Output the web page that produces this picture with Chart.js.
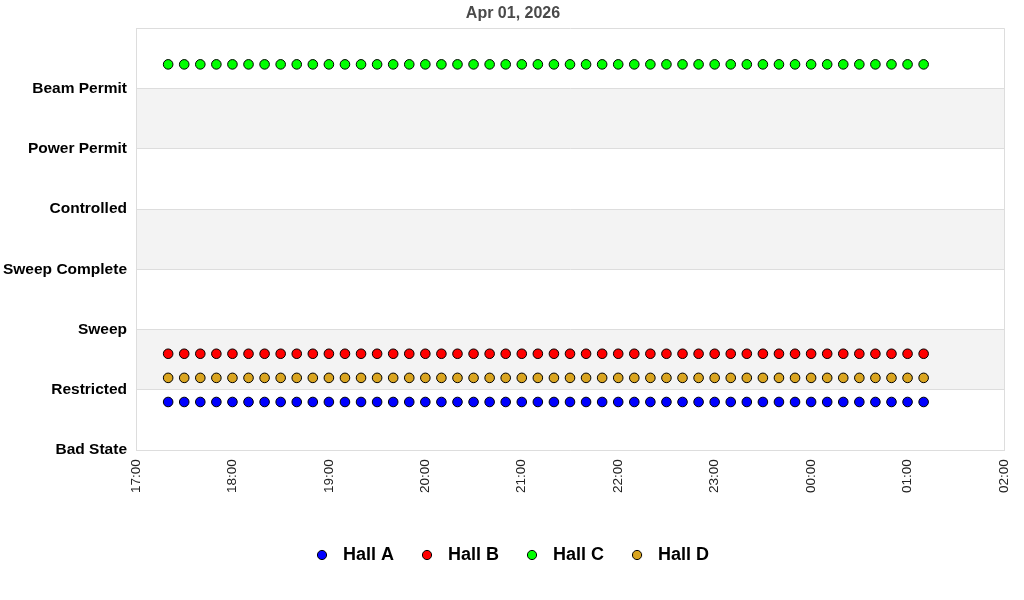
<!DOCTYPE html>
<html>
<head>
<meta charset="utf-8">
<script src="https://cdn.jsdelivr.net/npm/chart.js@4"></script>
<style>
  html, body { margin: 0; padding: 0; background: #fff; }
  #wrap { width: 1024px; height: 600px; }
</style>
</head>
<body>
<div id="wrap"><canvas id="stateChart"></canvas></div>
<script>
const chartTitle = 'Apr 01, 2026';

// y axis states, bottom to top (the top tick has no label)
const stateLabels = ['Bad State', 'Restricted', 'Sweep', 'Sweep Complete', 'Controlled', 'Power Permit', 'Beam Permit', ''];

// x axis, one label per hour
const hourLabels = ['17:00', '18:00', '19:00', '20:00', '21:00', '22:00', '23:00', '00:00', '01:00', '02:00'];

// sample times
const sampleTimes = [
  '17:20', '17:30', '17:40', '17:50', '18:00', '18:10', '18:20', '18:30', '18:40', '18:50',
  '19:00', '19:10', '19:20', '19:30', '19:40', '19:50', '20:00', '20:10', '20:20', '20:30',
  '20:40', '20:50', '21:00', '21:10', '21:20', '21:30', '21:40', '21:50', '22:00', '22:10',
  '22:20', '22:30', '22:40', '22:50', '23:00', '23:10', '23:20', '23:30', '23:40', '23:50',
  '00:00', '00:10', '00:20', '00:30', '00:40', '00:50', '01:00', '01:10'
];

const hallA = [0.8, 0.8, 0.8, 0.8, 0.8, 0.8, 0.8, 0.8, 0.8, 0.8, 0.8, 0.8, 0.8, 0.8, 0.8, 0.8, 0.8, 0.8, 0.8, 0.8, 0.8, 0.8, 0.8, 0.8, 0.8, 0.8, 0.8, 0.8, 0.8, 0.8, 0.8, 0.8, 0.8, 0.8, 0.8, 0.8, 0.8, 0.8, 0.8, 0.8, 0.8, 0.8, 0.8, 0.8, 0.8, 0.8, 0.8, 0.8];
const hallB = [1.6, 1.6, 1.6, 1.6, 1.6, 1.6, 1.6, 1.6, 1.6, 1.6, 1.6, 1.6, 1.6, 1.6, 1.6, 1.6, 1.6, 1.6, 1.6, 1.6, 1.6, 1.6, 1.6, 1.6, 1.6, 1.6, 1.6, 1.6, 1.6, 1.6, 1.6, 1.6, 1.6, 1.6, 1.6, 1.6, 1.6, 1.6, 1.6, 1.6, 1.6, 1.6, 1.6, 1.6, 1.6, 1.6, 1.6, 1.6];
const hallC = [6.4, 6.4, 6.4, 6.4, 6.4, 6.4, 6.4, 6.4, 6.4, 6.4, 6.4, 6.4, 6.4, 6.4, 6.4, 6.4, 6.4, 6.4, 6.4, 6.4, 6.4, 6.4, 6.4, 6.4, 6.4, 6.4, 6.4, 6.4, 6.4, 6.4, 6.4, 6.4, 6.4, 6.4, 6.4, 6.4, 6.4, 6.4, 6.4, 6.4, 6.4, 6.4, 6.4, 6.4, 6.4, 6.4, 6.4, 6.4];
const hallD = [1.2, 1.2, 1.2, 1.2, 1.2, 1.2, 1.2, 1.2, 1.2, 1.2, 1.2, 1.2, 1.2, 1.2, 1.2, 1.2, 1.2, 1.2, 1.2, 1.2, 1.2, 1.2, 1.2, 1.2, 1.2, 1.2, 1.2, 1.2, 1.2, 1.2, 1.2, 1.2, 1.2, 1.2, 1.2, 1.2, 1.2, 1.2, 1.2, 1.2, 1.2, 1.2, 1.2, 1.2, 1.2, 1.2, 1.2, 1.2];

const hallNames = ['Hall A', 'Hall B', 'Hall C', 'Hall D'];
const hallColors = ['#0000ff', '#ff0000', '#00ff00', '#daa520'];

// minutes since 17:00
function toMinutes(t) {
  const parts = t.split(':');
  const m = parseInt(parts[0], 10) * 60 + parseInt(parts[1], 10);
  return (m - 17 * 60 + 24 * 60) % (24 * 60);
}

function points(values) {
  return values.map((v, i) => ({ x: toMinutes(sampleTimes[i]), y: v }));
}

// legend marker with some room on the right
function legendIcon(color) {
  const c = document.createElement('canvas');
  c.width = 17;
  c.height = 12;
  const g = c.getContext('2d');
  g.beginPath();
  g.arc(5, 6, 4.6, 0, Math.PI * 2);
  g.fillStyle = color;
  g.fill();
  g.lineWidth = 1;
  g.strokeStyle = '#000';
  g.stroke();
  return c;
}

// alternating grey bands behind the grid
const bandPlugin = {
  id: 'bands',
  beforeDraw(chart) {
    const y = chart.scales.y;
    const area = chart.chartArea;
    const ctx = chart.ctx;
    ctx.save();
    ctx.fillStyle = '#f3f3f3';
    for (let v = 1; v < 7; v += 2) {
      const top = y.getPixelForValue(v + 1);
      const bottom = y.getPixelForValue(v);
      ctx.fillRect(area.left, top, area.right - area.left, bottom - top);
    }
    ctx.restore();
  }
};

const datasets = [hallA, hallB, hallC, hallD].map((vals, i) => ({
  label: hallNames[i],
  data: points(vals),
  backgroundColor: hallColors[i],
  borderColor: '#000',
  borderWidth: 1,
  pointRadius: 4.8,
  pointStyle: 'circle',
  showLine: false
}));

Chart.defaults.font.family = '"Liberation Sans", Arial, sans-serif';

new Chart(document.getElementById('stateChart'), {
  type: 'scatter',
  data: { datasets: datasets },
  options: {
    responsive: true,
    maintainAspectRatio: false,
    animation: false,
    events: [],
    layout: { padding: { left: 3, right: 1, top: 0, bottom: 26 } },
    plugins: {
      title: {
        display: true,
        text: chartTitle,
        color: '#4a4a4a',
        font: { size: 16, weight: 'bold' },
        padding: { top: 4, bottom: 5 }
      },
      legend: {
        position: 'bottom',
        labels: {
          usePointStyle: true,
          pointStyleWidth: 17,
          boxHeight: 12,
          padding: 28,
          color: '#000',
          font: { size: 18, weight: 'bold' },
          generateLabels(chart) {
            const items = Chart.defaults.plugins.legend.labels.generateLabels(chart);
            items.forEach((it, i) => { it.pointStyle = legendIcon(hallColors[i]); });
            return items;
          }
        }
      },
      tooltip: { enabled: false }
    },
    scales: {
      x: {
        type: 'linear',
        min: 0,
        max: 540,
        ticks: {
          stepSize: 60,
          minRotation: 90,
          maxRotation: 90,
          padding: 9,
          color: '#222',
          font: { size: 13.5 },
          callback: (v) => hourLabels[Math.round(v / 60)]
        },
        grid: {
          drawTicks: false,
          color: (c) => (c.tick && c.tick.value === 540 ? '#dddddd' : 'rgba(0,0,0,0)')
        },
        border: { color: '#dddddd' },
        afterFit: (s) => {
          s.height += 16;
          s.paddingLeft = 0;
          s.paddingRight = 0;
        }
      },
      y: {
        type: 'linear',
        min: 0,
        max: 7,
        ticks: {
          stepSize: 1,
          padding: 9,
          color: '#000',
          font: { size: 15.5, weight: 'bold' },
          callback: (v) => stateLabels[v]
        },
        grid: { drawTicks: false, color: '#dddddd' },
        border: { color: '#dddddd' },
        afterFit: (s) => { s.width = 133; }
      },
      // empty strip on the right to leave a margin after the plot
      gap: {
        type: 'linear',
        position: 'right',
        display: true,
        grid: { display: false },
        border: { display: false },
        ticks: { display: false },
        afterFit: (s) => { s.width = 19; }
      }
    }
  },
  plugins: [bandPlugin]
});
</script>
</body>
</html>
